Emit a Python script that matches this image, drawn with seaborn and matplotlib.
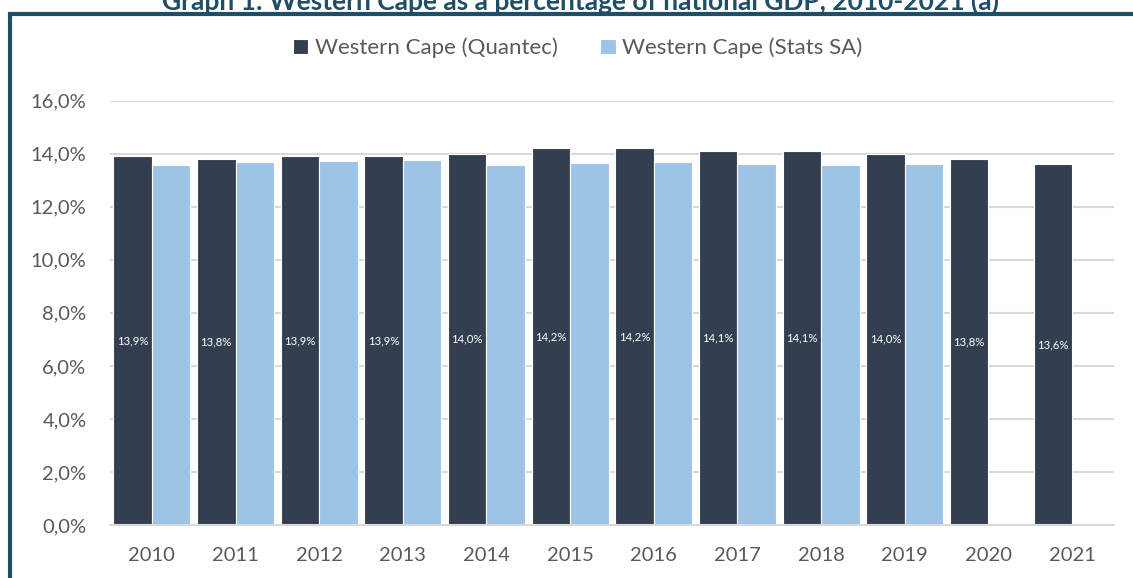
import numpy as np
import pandas as pd
import matplotlib
matplotlib.use("Agg")
import matplotlib.pyplot as plt
from matplotlib.patches import Rectangle
import seaborn as sns

years = ["2010", "2011", "2012", "2013", "2014", "2015",
         "2016", "2017", "2018", "2019", "2020", "2021"]
quantec = [13.9, 13.8, 13.9, 13.9, 14.0, 14.2, 14.2, 14.1, 14.1, 14.0, 13.8, 13.6]
stats_sa = [13.56, 13.67, 13.72, 13.76, 13.57, 13.65, 13.70, 13.61, 13.58, 13.61, np.nan, np.nan]
series_names = ["Western Cape (Quantec)", "Western Cape (Stats SA)"]
title = "Graph 1: Western Cape as a percentage of national GDP, 2010-2021 (a)"

dark = "#333f50"
light = "#9dc3e6"
text_grey = "#595959"
frame_col = "#1f4e66"

df = pd.concat([
    pd.DataFrame({"year": years, "value": quantec, "series": series_names[0]}),
    pd.DataFrame({"year": years, "value": stats_sa, "series": series_names[1]}),
], ignore_index=True)

sns.set_theme(style="white")
plt.rcParams["font.family"] = ["Lato", "DejaVu Sans"]

fig = plt.figure(figsize=(11.33, 5.78), dpi=100)
ax = fig.add_axes([0.0971, 0.0917, 0.8861, 0.7341])

sns.barplot(data=df, x="year", y="value", hue="series", order=years,
            hue_order=series_names, palette=[dark, light], width=0.92,
            edgecolor="white", linewidth=0.8, saturation=1, ax=ax,
            errorbar=None)

ax.set_ylim(0, 16)
ax.set_yticks(np.arange(0, 16.1, 2))
ax.set_yticklabels([f"{v:.1f}%".replace(".", ",") for v in np.arange(0, 16.1, 2)])
ax.yaxis.grid(True, color="#d9d9d9", linewidth=1.5)
ax.set_axisbelow(True)
for s in ["top", "right", "left"]:
    ax.spines[s].set_visible(False)
ax.spines["bottom"].set_color("#d9d9d9")
ax.spines["bottom"].set_linewidth(1.5)
ax.set_xlabel("")
ax.set_ylabel("")
ax.tick_params(axis="both", length=0, labelsize=14.5, colors=text_grey)
ax.tick_params(axis="y", pad=17)
ax.tick_params(axis="x", pad=16)

# value labels on the Quantec bars
q_container = ax.containers[0]
ax.bar_label(q_container, labels=[f"{v:.1f}%".replace(".", ",") for v in quantec],
             label_type="center", color="white", fontsize=8.2)

sns.move_legend(ax, "center", bbox_to_anchor=(0.51, 0.917),
                bbox_transform=fig.transFigure, ncol=2, title=None,
                frameon=False, fontsize=16, handlelength=0.7,
                handleheight=0.7, handletextpad=0.3, columnspacing=1.9)
for t in ax.get_legend().get_texts():
    t.set_color(text_grey)

# outer frame
fig.patches.append(Rectangle((9.5 / 1133, -0.1), 1.2, 1 - 14 / 578 + 0.1,
                             transform=fig.transFigure, fill=False,
                             edgecolor=frame_col, linewidth=3, zorder=0))
fig.text(0.512, 1 - 1 / 578, title, ha="center", va="center",
         fontsize=19, fontweight="bold", color=frame_col)

fig.savefig("out.png", dpi=100)
